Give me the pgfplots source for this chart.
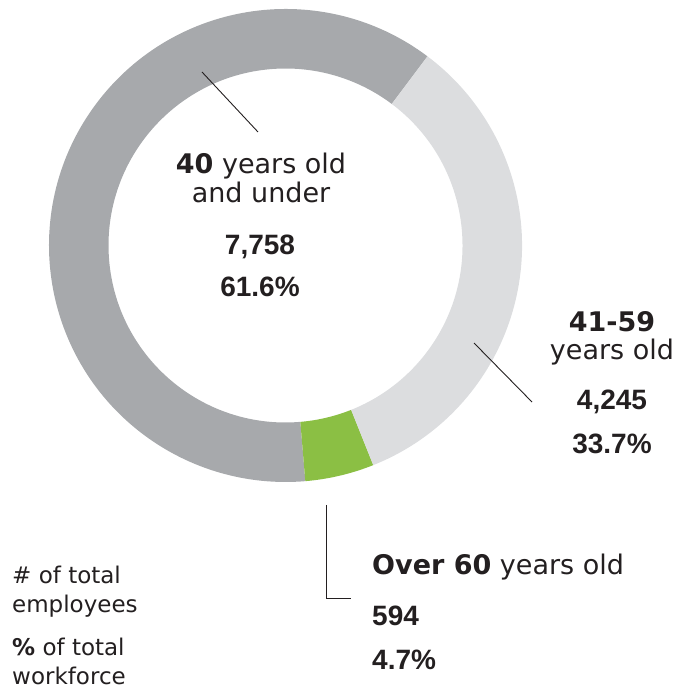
\documentclass[border=0pt]{standalone}
\usepackage{fontspec}
\setmainfont{DejaVu Sans}
\newfontfamily\numfont{Liberation Sans}
\usepackage{pgfplots}
\pgfplotsset{compat=1.18}
\definecolor{cDark}{HTML}{A7A9AC}
\definecolor{cLight}{HTML}{DCDDDF}
\definecolor{cGreen}{HTML}{8BBF44}
\definecolor{cText}{HTML}{231F20}
\begin{document}
\begin{tikzpicture}
% data: employees by age group
\def\vA{7758}% 40 years old and under
\def\vB{594}%  over 60
\def\vC{4245}% 41-59
\pgfmathsetmacro{\tot}{\vA+\vB+\vC}
\pgfmathsetmacro{\aA}{53.1}
\pgfmathsetmacro{\aB}{\aA+\vA/\tot*360}
\pgfmathsetmacro{\aC}{\aB+\vB/\tot*360}
\pgfmathsetmacro{\aD}{\aC+\vC/\tot*360}
\def\cx{285.5}\def\cy{444.5}\def\Ro{236.5}\def\Ri{177}
\begin{axis}[width=692pt,height=690pt,scale only axis,
  xmin=0,xmax=692,ymin=0,ymax=690,hide axis,clip=false]
\coordinate (ll) at (axis cs:0,0);
\coordinate (ur) at (axis cs:692,690);
% ring segments
\fill[cDark] (axis cs:{\cx+\Ro*cos(\aA)},{\cy+\Ro*sin(\aA)})
  arc[start angle=\aA,end angle=\aB,radius=\Ro pt]
  -- (axis cs:{\cx+\Ri*cos(\aB)},{\cy+\Ri*sin(\aB)})
  arc[start angle=\aB,end angle=\aA,radius=\Ri pt] -- cycle;
\fill[cGreen] (axis cs:{\cx+\Ro*cos(\aB)},{\cy+\Ro*sin(\aB)})
  arc[start angle=\aB,end angle=\aC,radius=\Ro pt]
  -- (axis cs:{\cx+\Ri*cos(\aC)},{\cy+\Ri*sin(\aC)})
  arc[start angle=\aC,end angle=\aB,radius=\Ri pt] -- cycle;
\fill[cLight] (axis cs:{\cx+\Ro*cos(\aC)},{\cy+\Ro*sin(\aC)})
  arc[start angle=\aC,end angle=\aD,radius=\Ro pt]
  -- (axis cs:{\cx+\Ri*cos(\aD)},{\cy+\Ri*sin(\aD)})
  arc[start angle=\aD,end angle=\aC,radius=\Ri pt] -- cycle;
% leader lines
\draw[cText,line width=0.9pt] (axis cs:202,{690-72}) -- (axis cs:258,{690-132});
\draw[cText,line width=0.9pt] (axis cs:474,{690-343}) -- (axis cs:532,{690-402});
\draw[cText,line width=0.9pt] (axis cs:326,{690-505}) -- (axis cs:326,{690-598}) -- (axis cs:351,{690-598});
% centre labels
\node[anchor=base,inner sep=0,text=cText,font=\fontsize{27}{32}\selectfont] at (axis cs:261,{690-174}) {{\bfseries 40} years old};
\node[anchor=base,inner sep=0,text=cText,font=\fontsize{27}{32}\selectfont] at (axis cs:261,{690-203}) {and under};
\node[anchor=base,inner sep=0,text=cText,font=\numfont\bfseries\fontsize{28}{32}\selectfont] at (axis cs:260,{690-255}) {7,758};
\node[anchor=base,inner sep=0,text=cText,font=\numfont\bfseries\fontsize{28}{32}\selectfont] at (axis cs:260,{690-297}) {61.6\%};
% right labels
\node[anchor=base,inner sep=0,text=cText,font=\bfseries\fontsize{27}{32}\selectfont] at (axis cs:612,{690-332}) {41-59};
\node[anchor=base,inner sep=0,text=cText,font=\fontsize{27}{32}\selectfont] at (axis cs:612,{690-360}) {years old};
\node[anchor=base,inner sep=0,text=cText,font=\numfont\bfseries\fontsize{28}{32}\selectfont] at (axis cs:612,{690-410}) {4,245};
\node[anchor=base,inner sep=0,text=cText,font=\numfont\bfseries\fontsize{28}{32}\selectfont] at (axis cs:612,{690-454}) {33.7\%};
% bottom labels
\node[anchor=base west,inner sep=0,text=cText,font=\fontsize{27}{32}\selectfont] at (axis cs:372,{690-574}) {{\bfseries Over 60} years old};
\node[anchor=base west,inner sep=0,text=cText,font=\numfont\bfseries\fontsize{28}{32}\selectfont] at (axis cs:372,{690-625}) {594};
\node[anchor=base west,inner sep=0,text=cText,font=\numfont\bfseries\fontsize{28}{32}\selectfont] at (axis cs:372,{690-669}) {4.7\%};
% key
\node[anchor=base west,inner sep=0,text=cText,font=\fontsize{23}{28}\selectfont] at (axis cs:12,{690-583}) {\# of total};
\node[anchor=base west,inner sep=0,text=cText,font=\fontsize{23}{28}\selectfont] at (axis cs:12,{690-612}) {employees};
\node[anchor=base west,inner sep=0,text=cText,font=\fontsize{23}{28}\selectfont] at (axis cs:12,{690-655}) {{\bfseries\%} of total};
\node[anchor=base west,inner sep=0,text=cText,font=\fontsize{23}{28}\selectfont] at (axis cs:12,{690-684}) {workforce};
\end{axis}
\pgfresetboundingbox
\path[use as bounding box] (ll) rectangle (ur);
\end{tikzpicture}
\end{document}
